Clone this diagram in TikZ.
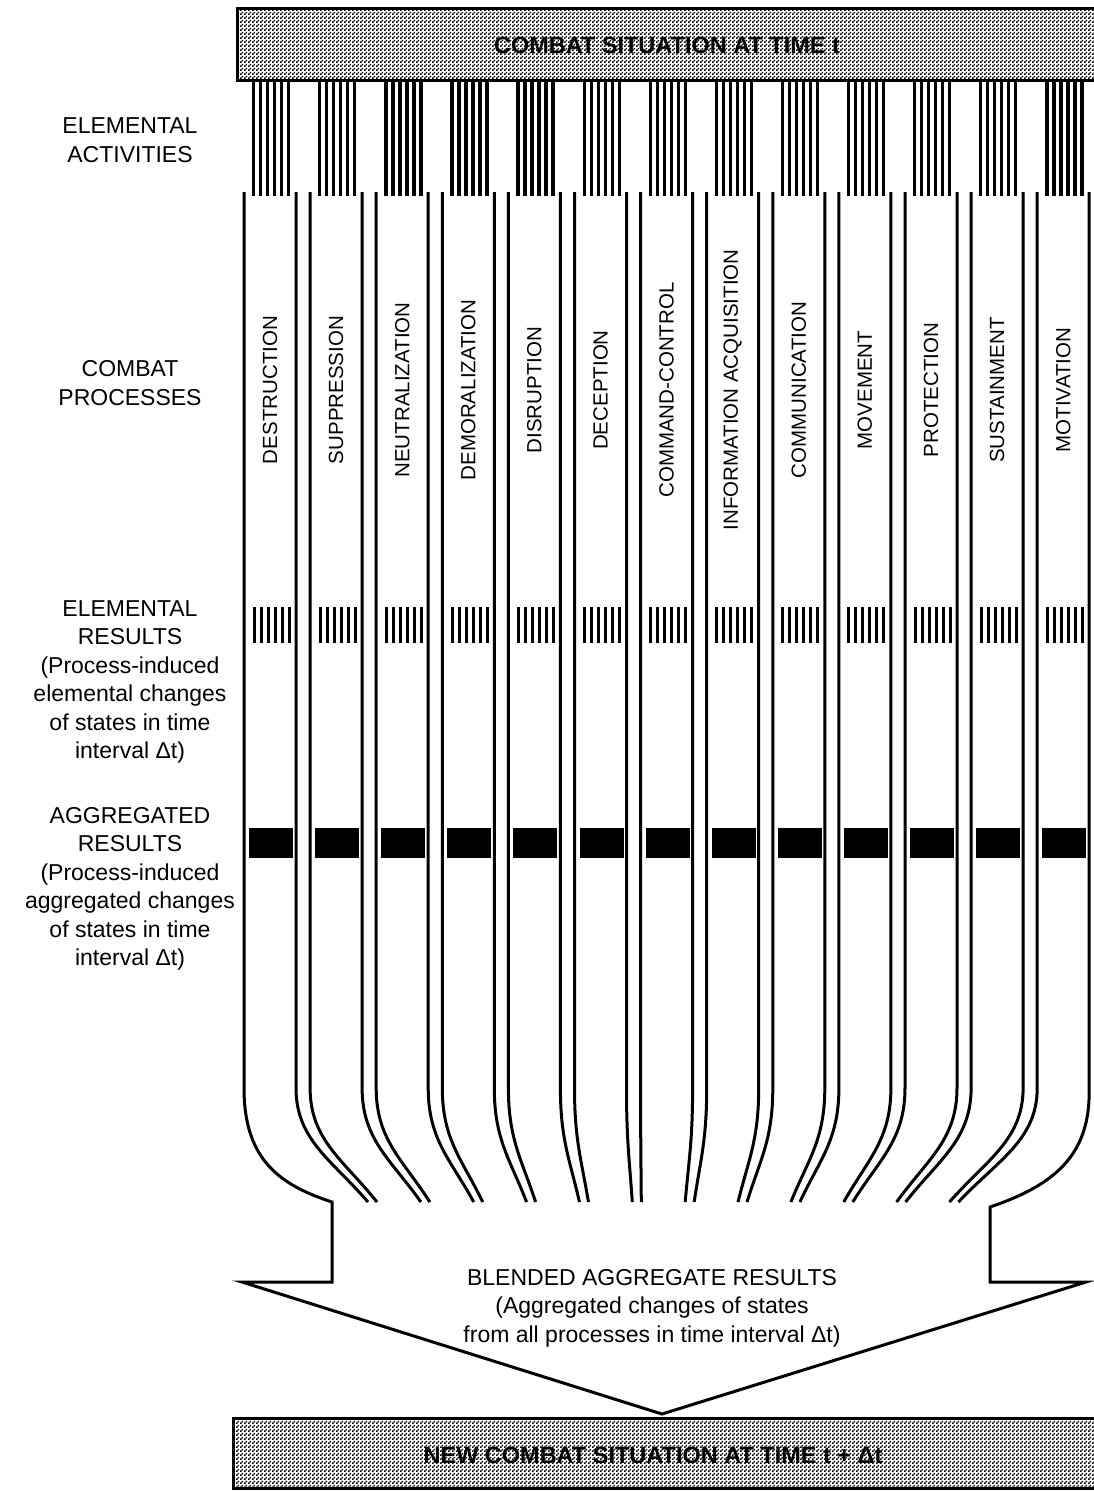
\documentclass[tikz,border=0pt]{standalone}
\usepackage{fontspec}
\setmainfont{Liberation Sans}
\usetikzlibrary{patterns}

% fine checkerboard used as a halftone screen
\pgfdeclarepatternformonly{halftone}{\pgfpointorigin}{\pgfqpoint{4pt}{4pt}}{\pgfqpoint{4pt}{4pt}}{%
  \pgfpathrectangle{\pgfpointorigin}{\pgfqpoint{2pt}{2pt}}%
  \pgfpathrectangle{\pgfqpoint{2pt}{2pt}}{\pgfqpoint{2pt}{2pt}}%
  \pgfusepath{fill}}

\tikzset{
  chan/.style={line width=3pt, line cap=butt, line join=miter},
  lbl/.style={font=\fontsize{23}{28.5}\selectfont, align=center, inner sep=0pt},
  proc/.style={font=\fontsize{20.5}{24}\selectfont, rotate=90, inner sep=0pt},
  boxtxt/.style={font=\fontsize{23.5}{28}\selectfont\bfseries, inner sep=0pt},
  halfbox/.style={pattern=halftone, pattern color=black}
}

\begin{document}
\begin{tikzpicture}[x=1pt, y=-1pt]
\fill[white] (0,0) rectangle (1094,1491);
\useasboundingbox (0,0) rectangle (1094,1491);

% situation at time t
\fill[halfbox] (237,8) rectangle (1094,80);
\draw[chan] (1094,8) -- (237,8) -- (237,80) -- (1094,80);
\node[boxtxt] (sitT) at (667,45) {COMBAT SITUATION AT TIME t};

% row labels
\node[lbl] (lblAct) at (130,140) {ELEMENTAL\\ACTIVITIES};
\node[lbl] (lblProc) at (130,383) {COMBAT\\PROCESSES};
\node[lbl] (lblElem) at (130,682) {ELEMENTAL\\RESULTS\\(Process-induced\\elemental changes\\of states in time\\interval Δt)};
\node[lbl] (lblAgg) at (130,889) {AGGREGATED\\RESULTS\\(Process-induced\\aggregated changes\\of states in time\\interval Δt)};

% the thirteen process channels
\foreach \name [count=\i from 0] in {DESTRUCTION, SUPPRESSION, NEUTRALIZATION,
    DEMORALIZATION, DISRUPTION, DECEPTION, COMMAND-CONTROL,
    INFORMATION ACQUISITION, COMMUNICATION, MOVEMENT, PROTECTION,
    SUSTAINMENT, MOTIVATION} {
  \pgfmathsetmacro{\L}{244+66.1*\i}
  \pgfmathsetmacro{\C}{\L+26}
  % elemental activities
  \foreach \k in {0,...,5} {
    \fill (\L+8+7*\k,80) rectangle ++(3.3,116);
  }
  % elemental results
  \foreach \k in {0,...,5} {
    \fill (\L+8.5+7*\k,607) rectangle ++(3,36);
  }
  % aggregated result
  \fill (\L+5,828) rectangle (\L+49,858);
  \node[proc] (proc\i) at (\C,390) {\name};
}

% inner channel walls bending together toward the blend
\foreach \j in {0,...,11} {
  \pgfmathsetmacro{\a}{244+66.1*\j+52}
  \pgfmathsetmacro{\b}{244+66.1*(\j+1)}
  \pgfmathsetmacro{\g}{372.5+52.86*\j}
  \pgfmathsetmacro{\ea}{\g-4.5}
  \pgfmathsetmacro{\eb}{\g+4.5}
  \pgfmathsetmacro{\ma}{0.5*(\a+\ea)}
  \pgfmathsetmacro{\mb}{0.5*(\b+\eb)}
  \draw[chan] (\a,192) -- (\a,1088) .. controls (\a,1140) and (\ma,1160) .. (\ea,1202);
  \draw[chan] (\b,192) -- (\b,1088) .. controls (\b,1140) and (\mb,1160) .. (\eb,1202);
}

% outer walls merging into the blended-results arrow
\draw[chan] (244,192) -- (244,1088)
  .. controls (244,1160) and (280,1185) .. (332,1202)
  -- (332,1282) -- (242,1282) -- (662,1414) -- (1086,1282) -- (990,1282)
  -- (990,1207) .. controls (1055,1185) and (1089.2,1155) .. (1089.2,1092)
  -- (1089.2,192);

\node[lbl] (blend) at (652,1308) {BLENDED AGGREGATE RESULTS\\(Aggregated changes of states\\from all processes in time interval Δt)};

% situation at time t + dt
\fill[halfbox] (233,1418) rectangle (1094,1488);
\draw[chan] (1094,1418) -- (233,1418) -- (233,1488) -- (1094,1488);
\node[boxtxt] (sitTdt) at (653,1455) {NEW COMBAT SITUATION AT TIME t + Δt};
\end{tikzpicture}
\end{document}
